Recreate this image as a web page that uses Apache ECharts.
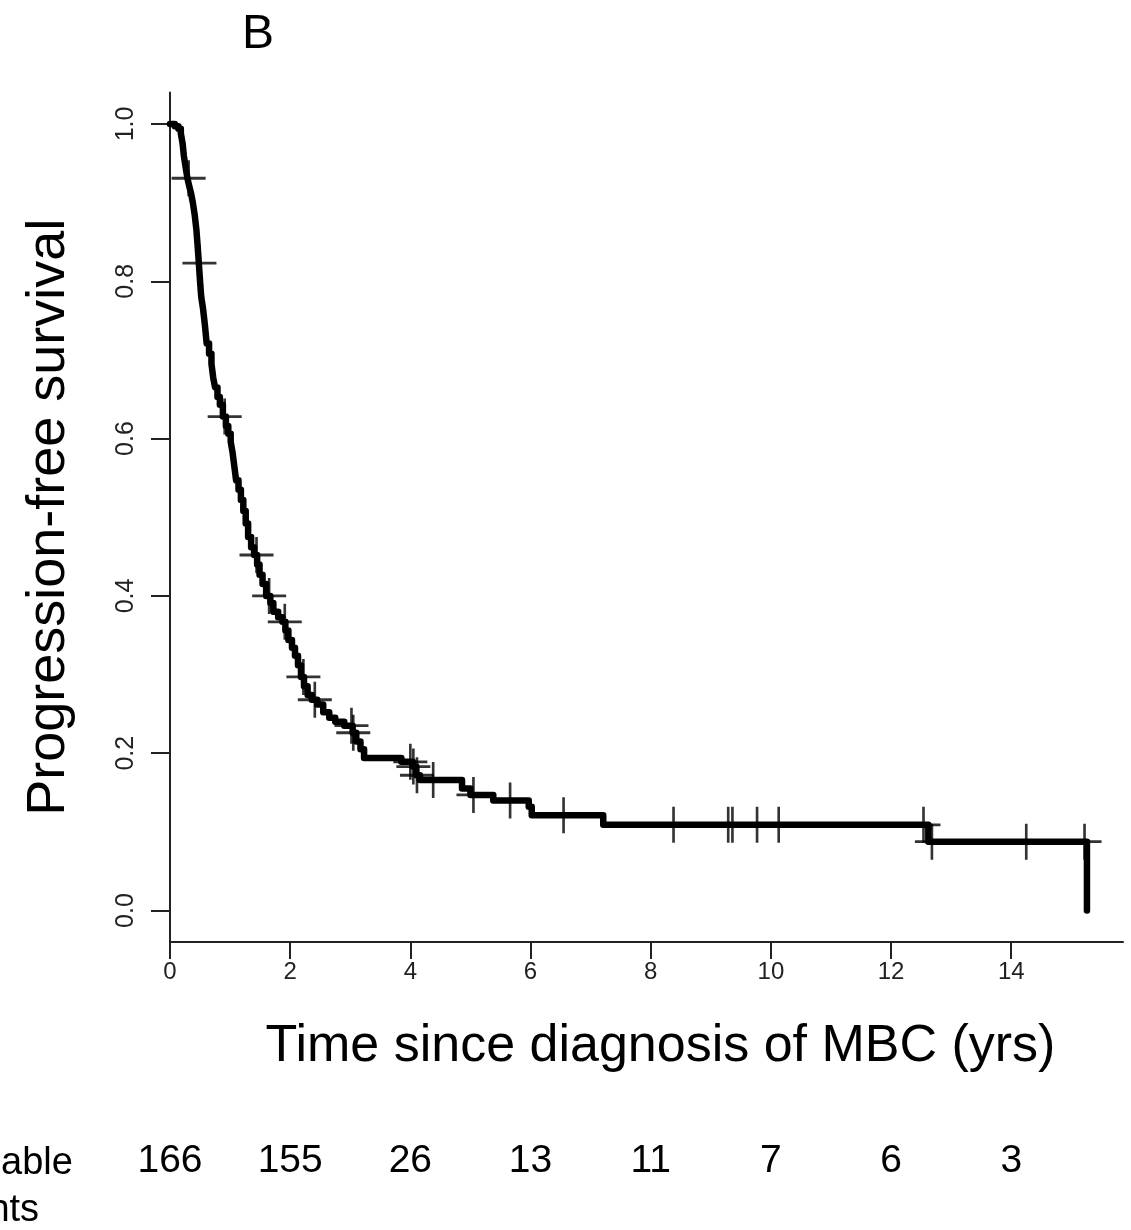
<!DOCTYPE html>
<html><head><meta charset="utf-8">
<script src="https://cdn.jsdelivr.net/npm/echarts@6/dist/echarts.min.js"></script>
<style>html,body{margin:0;padding:0;background:#fff}#c{width:1131px;height:1230px}</style>
</head><body><div id="c"></div>
<script>
// Kaplan-Meier step curve: event times (years) and survival after each drop
const kmTimes = [0, 0.08, 0.14, 0.18, 0.21, 0.23, 0.26, 0.29, 0.32, 0.35, 0.38, 0.41, 0.44, 0.46, 0.48, 0.50, 0.52, 0.55, 0.58, 0.61, 0.65, 0.69, 0.72, 0.75, 0.79, 0.83, 0.88, 0.93, 0.97, 1.01, 1.04, 1.07, 1.10, 1.14, 1.18, 1.22, 1.26, 1.30, 1.35, 1.40, 1.45, 1.49, 1.54, 1.60, 1.67, 1.72, 1.80, 1.87, 1.92, 1.97, 2.03, 2.08, 2.13, 2.18, 2.23, 2.29, 2.36, 2.45, 2.55, 2.65, 2.75, 2.90, 3.04, 3.10, 3.17, 3.23, 3.85, 4.04, 4.10, 4.16, 4.86, 5.00, 5.38, 5.97, 6.02, 7.21, 12.62, 15.26];
const kmSurv  = [1.0, 0.997, 0.994, 0.988, 0.975, 0.960, 0.945, 0.931, 0.921, 0.912, 0.900, 0.885, 0.865, 0.845, 0.823, 0.800, 0.780, 0.765, 0.745, 0.721, 0.708, 0.695, 0.677, 0.665, 0.653, 0.643, 0.628, 0.616, 0.606, 0.596, 0.583, 0.565, 0.547, 0.535, 0.522, 0.508, 0.492, 0.475, 0.462, 0.452, 0.440, 0.427, 0.415, 0.400, 0.391, 0.380, 0.373, 0.367, 0.356, 0.344, 0.334, 0.324, 0.312, 0.297, 0.285, 0.274, 0.268, 0.262, 0.252, 0.245, 0.240, 0.235, 0.226, 0.215, 0.205, 0.194, 0.189, 0.183, 0.172, 0.166, 0.155, 0.147, 0.140, 0.132, 0.121, 0.109, 0.0875, 0.0];
// Censoring marks
const censorTimes = [0.31, 0.49, 0.91, 1.44, 1.65, 1.91, 2.22, 2.41, 3.02, 3.05, 4.00, 4.05, 4.11, 4.38, 5.05, 5.66, 6.55, 8.38, 9.29, 9.36, 9.77, 10.13, 12.54, 12.68, 14.25, 15.22];
const censorSurv  = [0.931, 0.823, 0.628, 0.452, 0.400, 0.367, 0.297, 0.268, 0.235, 0.226, 0.189, 0.183, 0.172, 0.166, 0.147, 0.140, 0.121, 0.109, 0.109, 0.109, 0.109, 0.109, 0.109, 0.0875, 0.0875, 0.0875];
// Axis ticks
const xTickValues = [0, 2, 4, 6, 8, 10, 12, 14];
const yTickValues = [0, 0.2, 0.4, 0.6, 0.8, 1.0];
// Numbers at risk
const atRiskTimes  = [0, 2, 4, 6, 8, 10, 12, 14];
const atRiskCounts = [166, 155, 26, 13, 11, 7, 6, 3];

const FONT = "'Liberation Sans', Arial, Helvetica, sans-serif";
const AX = '#222222';

const chart = echarts.init(document.getElementById('c'), null, {renderer: 'canvas'});
chart.setOption({
  animation: false,
  backgroundColor: '#ffffff',
  grid: {left: 170, right: 8, top: 92.5, bottom: 288, containLabel: false},
  xAxis: [{
    type: 'value', min: 0, max: 15.86,
    name: 'Time since diagnosis of MBC (yrs)', nameLocation: 'middle', nameGap: 79,
    nameTextStyle: {fontFamily: FONT, fontSize: 52, color: '#000', padding: [0, 0, 0, 28]},
    axisLine: {show: true, onZero: false, lineStyle: {color: AX, width: 2}},
    axisTick: {show: true, length: 17, customValues: xTickValues, lineStyle: {color: AX, width: 2}},
    axisLabel: {customValues: xTickValues, margin: 18, fontFamily: FONT, fontSize: 24, color: AX, formatter: v => String(v)},
    splitLine: {show: false}
  }, {
    type: 'value', min: 0, max: 15.86, position: 'bottom', offset: 200,
    axisLine: {show: false, onZero: false}, axisTick: {show: false}, splitLine: {show: false},
    axisLabel: {customValues: atRiskTimes, margin: 0, fontFamily: FONT, fontSize: 39, color: '#000',
      formatter: v => String(atRiskCounts[atRiskTimes.indexOf(v)])}
  }],
  yAxis: {
    type: 'value', min: -0.04, max: 1.04,
    name: 'Progression-free survival', nameLocation: 'middle', nameGap: 94,
    nameTextStyle: {fontFamily: FONT, fontSize: 54, color: '#000'},
    axisLine: {show: true, onZero: false, lineStyle: {color: AX, width: 2}},
    axisTick: {show: true, length: 19, customValues: yTickValues, lineStyle: {color: AX, width: 2}},
    axisLabel: {customValues: yTickValues, rotate: 90, margin: 31, fontFamily: FONT, fontSize: 25, color: AX,
      formatter: v => v.toFixed(1)},
    splitLine: {show: false}
  },
  graphic: [
    {type: 'text', left: 242, top: 11, style: {text: 'B', font: "48px " + FONT, fill: '#000'}},
    {type: 'text', left: -94, top: 1140, style: {text: 'Evaluable\npatients', font: "38px " + FONT, lineHeight: 47, fill: '#000', textAlign: 'left'}}
  ],
  series: [{
    type: 'line', step: 'end', showSymbol: false, z: 3,
    data: kmTimes.map((t, i) => [t, kmSurv[i]]),
    lineStyle: {color: '#000', width: 6.5, cap: 'round', join: 'round'}
  }, {
    type: 'scatter', z: 4,
    symbol: 'path://M-1.4,-18L1.4,-18L1.4,18L-1.4,18Z M-18,-1.4L18,-1.4L18,1.4L-18,1.4Z',
    symbolSize: [34, 36],
    itemStyle: {color: '#000'},
    data: censorTimes.map((t, i) => [t, censorSurv[i]])
  }]
});
</script>
</body></html>
